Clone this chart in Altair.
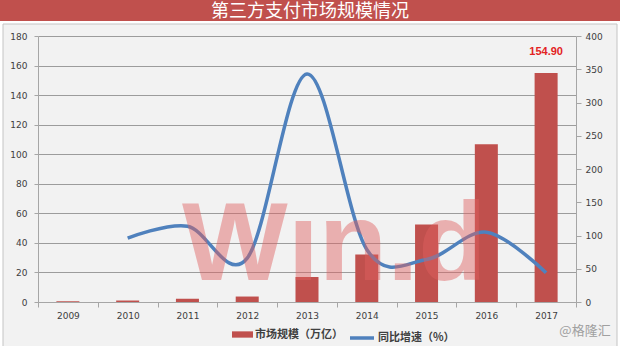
import altair as alt
import pandas as pd

# ---- data ----
years = ["2009", "2010", "2011", "2012", "2013", "2014", "2015", "2016", "2017"]
market_size = [0.5, 1.0, 2.2, 3.7, 16.9, 32.2, 52.5, 106.8, 154.9]
growth_years = ["2010", "2011", "2012", "2013", "2014", "2015", "2016", "2017"]
growth_rate = [96, 114, 66, 343, 79, 64, 105, 44]
series_names = ["市场规模（万亿）", "同比增速（%）"]
series_colors = ["#C0504D", "#4F81BD"]
left_ticks = [0, 20, 40, 60, 80, 100, 120, 140, 160, 180]
right_ticks = [0, 50, 100, 150, 200, 250, 300, 350, 400]
title_text = "第三方支付市场规模情况"
watermark_text = "Wın.d"
credit_text = "@格隆汇"
highlight_year = "2017"

bar_df = pd.DataFrame({"year": years, "value": market_size, "series": series_names[0]})
line_df = pd.DataFrame({"year": growth_years, "rate": growth_rate, "series": series_names[1]})
one = pd.DataFrame({"t": [title_text]})

AX = "#A6A6A6"
GRID = "#9C9C9C"
LBL = "#404040"

x_enc = alt.X(
    "year:N",
    scale=alt.Scale(domain=years, paddingInner=0, paddingOuter=0),
    axis=alt.Axis(title=None, labelAngle=0, tickBand="extent", tickSize=5,
                  tickColor=AX, domainColor=AX, labelPadding=4, grid=False,
                  labelFont="DejaVu Sans", labelFontSize=9, labelColor=LBL),
)

legend_common = dict(title=None, orient="none", direction="horizontal",
                     labelFont="Noto Sans CJK SC", labelFontSize=11,
                     labelFontWeight="bold", labelColor=LBL, labelOffset=2,
                     padding=0)

left_y = alt.Y(
    "value:Q", scale=alt.Scale(domain=[0, 180], nice=False),
    axis=alt.Axis(orient="left", values=left_ticks, title=None, grid=True,
                  gridColor=GRID, gridWidth=1.2, domainColor=AX, tickColor=AX,
                  tickSize=4, labelPadding=7, labelFont="DejaVu Sans",
                  labelFontSize=9, labelColor=LBL, labelOverlap=False),
)

bars = alt.Chart(bar_df).mark_bar(width=alt.RelativeBandSize(0.385)).encode(
    x=x_enc,
    y=left_y,
    fill=alt.Fill("series:N",
                  scale=alt.Scale(domain=[series_names[0]], range=[series_colors[0]]),
                  legend=alt.Legend(legendX=194, legendY=288,
                                    symbolType="M-1,-0.3H1V0.3H-1Z", symbolSize=441,
                                    symbolStrokeWidth=0, symbolOpacity=1,
                                    **legend_common)),
)

label = alt.Chart(bar_df).transform_filter(
    alt.datum.year == highlight_year
).mark_text(dy=-21, font="Liberation Sans", fontSize=11, fontWeight="bold",
            color="#E32222", align="center", baseline="middle").encode(
    x=x_enc,
    y=left_y,
    text=alt.Text("value:Q", format=".2f"),
)

left_layer = alt.layer(bars, label)

line = alt.Chart(line_df).mark_line(interpolate="cardinal", strokeWidth=3.5).encode(
    x=x_enc,
    y=alt.Y("rate:Q", scale=alt.Scale(domain=[0, 400], nice=False),
            axis=alt.Axis(orient="right", values=right_ticks, title=None, grid=False,
                          domainColor=AX, tickColor=AX, tickSize=5, labelPadding=4,
                          labelFont="DejaVu Sans", labelFontSize=9, labelColor=LBL,
                          labelOverlap=False)),
    stroke=alt.Stroke("series:N",
                      scale=alt.Scale(domain=[series_names[1]], range=[series_colors[1]]),
                      legend=alt.Legend(legendX=310, legendY=288, symbolType="stroke",
                                        symbolSize=576, symbolStrokeWidth=3.5,
                                        symbolOpacity=1, **legend_common)),
)

# decorative frame pieces (page furniture, not data)
top_strip = alt.Chart(one).mark_rect(fill="white").encode(
    x=alt.value(-38), x2=alt.value(582), y=alt.value(-15), y2=alt.value(-12))
left_strip = alt.Chart(one).mark_rect(fill="white").encode(
    x=alt.value(-38), x2=alt.value(-35), y=alt.value(-15), y2=alt.value(310))
right_strip = alt.Chart(one).mark_rect(fill="white").encode(
    x=alt.value(579), x2=alt.value(582), y=alt.value(-15), y2=alt.value(310))
border = alt.Chart(one).mark_rect(fillOpacity=0, stroke="#C4C4C4", strokeWidth=1).encode(
    x=alt.value(-35), x2=alt.value(579), y=alt.value(-12), y2=alt.value(312))
title_bar = alt.Chart(one).mark_rect(fill="#C0504D").encode(
    x=alt.value(-38), x2=alt.value(582), y=alt.value(-36), y2=alt.value(-15))

title = alt.Chart(one).mark_text(font="Noto Sans CJK SC", fontSize=18, color="white",
                                 align="center", baseline="middle").encode(
    x=alt.value(272), y=alt.value(-24), text="t:N")

watermark = alt.Chart(pd.DataFrame({"t": [watermark_text]})).mark_text(
    font="Liberation Sans", fontSize=112, fontWeight="bold", color="#E06060",
    opacity=0.45, align="left", baseline="alphabetic").encode(
    x=alt.value(144), y=alt.value(244), text="t:N")

credit = alt.Chart(pd.DataFrame({"t": [credit_text]})).mark_text(
    font="Noto Sans CJK SC", fontSize=13, color="#A0A0A0", align="center",
    baseline="middle").encode(x=alt.value(547), y=alt.value(295), text="t:N")

chart = alt.layer(top_strip, left_strip, right_strip, border, title_bar,
                  left_layer, line, watermark, title, credit).resolve_scale(
    y="independent"
).properties(
    width=538, height=266, autosize="none",
    padding={"left": 38, "top": 36, "right": 44, "bottom": 44},
    background="#F2F2F2",
).configure_view(strokeWidth=0)

chart.save("out.html", embed_options={"renderer": "svg", "actions": False})
